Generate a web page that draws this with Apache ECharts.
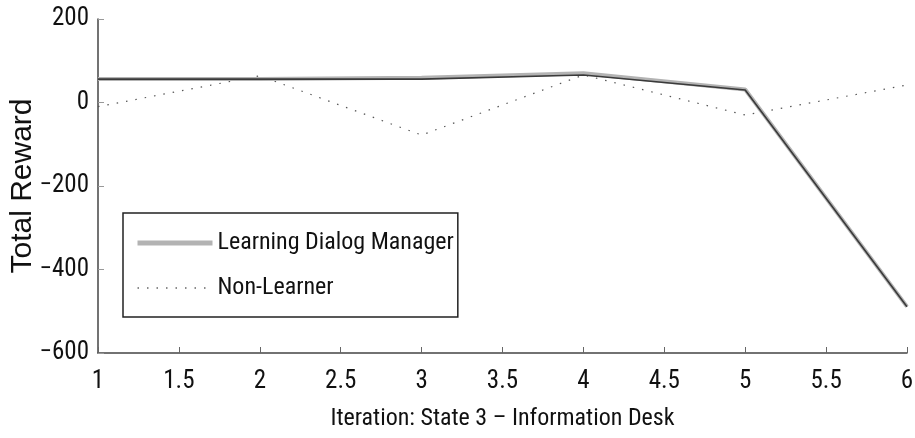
<!DOCTYPE html>
<html>
<head>
<meta charset="utf-8">
<script src="https://cdn.jsdelivr.net/npm/echarts@6/dist/echarts.min.js"></script>
<style>
html,body{margin:0;padding:0;background:#fff;}
#c{width:915px;height:438px;}
</style>
</head>
<body>
<div id="c"></div>
<script>
var iterations = [1, 2, 3, 4, 5, 6];
var learningManager = [56, 56, 59, 70, 31, -489];
var learnerTrace = [56, 56, 56, 66, 30, -489];
var nonLearner = [-10, 64, -78, 66, -30, 42];
var yTicks = [-600, -400, -200, 0, 200];

function pairs(xs, ys) { return xs.map(function (x, i) { return [x, ys[i]]; }); }

var narrow = '"Roboto Condensed", "Liberation Sans Narrow", sans-serif';
var chart = echarts.init(document.getElementById('c'));
chart.setOption({
  animation: false,
  backgroundColor: '#fff',
  grid: { left: 98, right: 8, top: 19, bottom: 85, containLabel: false, outerBoundsMode: 'none' },
  xAxis: {
    type: 'value', min: 1, max: 6, interval: 0.5,
    name: 'Iteration: State 3 \u2013 Information Desk',
    nameLocation: 'middle', nameGap: 54, nameMoveOverlap: false,
    nameTextStyle: { fontFamily: narrow, fontSize: 24, color: '#111' },
    axisLine: { show: true, onZero: false, lineStyle: { color: '#444', width: 1.5 } },
    axisTick: { show: true, inside: true, length: 6, lineStyle: { color: '#666' } },
    axisLabel: { fontFamily: narrow, fontSize: 25, color: '#111', margin: 16,
      formatter: function (v) { return String(v); } },
    splitLine: { show: false }
  },
  yAxis: {
    type: 'value', min: -600, max: 200, interval: 200,
    name: 'Total Reward', nameLocation: 'middle', nameGap: 60, nameRotate: 90, nameMoveOverlap: false,
    nameTextStyle: { fontFamily: '"Liberation Sans", Arial, sans-serif', fontSize: 30, color: '#111' },
    axisLine: { show: true, onZero: false, lineStyle: { color: '#444', width: 1.5 } },
    axisTick: { show: true, inside: true, length: 6, lineStyle: { color: '#999' } },
    axisLabel: { fontFamily: narrow, fontSize: 25, color: '#111', margin: 9,
      formatter: function (v) { return yTicks.indexOf(v) >= 0 ? (v < 0 ? '\u2212' + (-v) : String(v)) : ''; } },
    splitLine: { show: false }
  },
  legend: {
    orient: 'vertical', left: 123, top: 213,
    data: [
      { name: 'Learning Dialog Manager', lineStyle: { color: '#b3b3b3', width: 5 } },
      { name: 'Non-Learner', lineStyle: { color: '#666', width: 1.3, type: [1.5, 8] } }
    ],
    itemWidth: 75, itemHeight: 2, itemGap: 17,
    itemStyle: { opacity: 0 },
    padding: [16, 4, 15, 12],
    borderColor: '#222', borderWidth: 1.5, backgroundColor: '#fff',
    textStyle: { fontFamily: narrow, fontSize: 24, color: '#111', lineHeight: 28 }
  },
  series: [
    {
      name: 'Learning Dialog Manager', type: 'line', showSymbol: false, symbol: 'none',
      data: pairs(iterations, learningManager),
      lineStyle: { color: '#b3b3b3', width: 4 }, itemStyle: { color: '#b3b3b3' }, z: 2
    },
    {
      name: 'Trace', type: 'line', showSymbol: false, symbol: 'none',
      data: pairs(iterations, learnerTrace),
      lineStyle: { color: '#3a3a3a', width: 1.6 }, itemStyle: { color: '#3a3a3a' }, z: 3
    },
    {
      name: 'Non-Learner', type: 'line', showSymbol: false, symbol: 'none',
      data: pairs(iterations, nonLearner),
      lineStyle: { color: '#555', width: 1.2, type: [1.5, 8] }, itemStyle: { color: '#555' }, z: 1
    }
  ]
});
</script>
</body>
</html>
